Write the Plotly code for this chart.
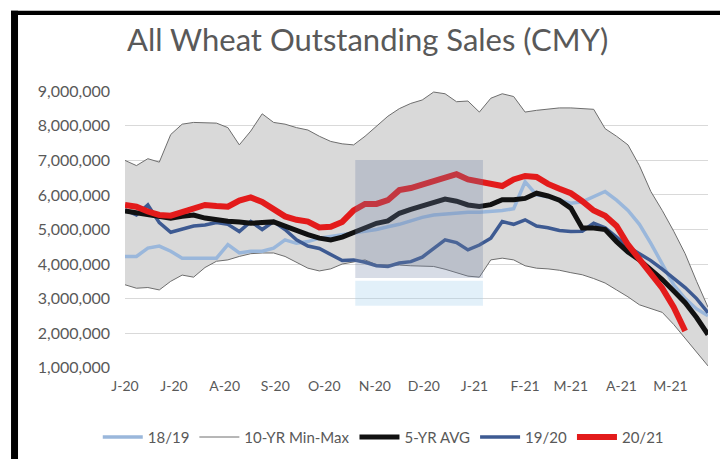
import pandas as pd
import plotly.graph_objects as go

# weekly points, June 2020 - May 2021
weeks = pd.date_range("2020-06-04", periods=52, freq="7D")

tick_dates = [pd.Timestamp("2020-06-04") + pd.DateOffset(months=k) for k in range(12)]
tick_labels = ["J-20", "J-20", "A-20", "S-20", "O-20", "N-20", "D-20", "J-21", "F-21", "M-21", "A-21", "M-21"]

# 10-year range (millions)
max_10yr = [7.00, 6.85, 7.05, 6.95, 7.75, 8.05, 8.10, 8.10, 8.08, 7.95, 7.45, 7.85, 8.35,
            8.10, 8.05, 7.95, 7.88, 7.70, 7.55, 7.48, 7.45, 7.70, 8.00, 8.28, 8.50, 8.65,
            8.75, 8.98, 8.93, 8.70, 8.72, 8.40, 8.80, 8.93, 8.85, 8.40, 8.45, 8.48, 8.52,
            8.52, 8.50, 8.48, 7.92, 7.70, 7.45, 6.85, 6.10, 5.55, 4.95, 4.30, 3.50, 2.75]
min_10yr = [3.40, 3.30, 3.32, 3.25, 3.50, 3.68, 3.62, 3.90, 4.08, 4.12, 4.22, 4.30, 4.32,
            4.32, 4.22, 4.05, 3.88, 3.80, 3.86, 4.00, 4.06, 4.12, 3.98, 3.98, 3.97, 3.95,
            3.94, 3.93, 3.85, 3.75, 3.65, 3.62, 4.12, 4.17, 4.12, 3.95, 3.88, 3.86, 3.82,
            3.75, 3.69, 3.58, 3.45, 3.25, 3.05, 2.82, 2.70, 2.60, 2.25, 1.85, 1.45, 1.05]
avg_5yr = [5.54, 5.48, 5.42, 5.36, 5.33, 5.38, 5.42, 5.33, 5.27, 5.24, 5.22, 5.18, 5.20,
           5.22, 5.10, 4.96, 4.85, 4.75, 4.70, 4.78, 4.92, 5.05, 5.18, 5.25, 5.47, 5.58,
           5.68, 5.78, 5.88, 5.82, 5.71, 5.67, 5.72, 5.86, 5.86, 5.90, 6.05, 5.97, 5.85,
           5.62, 5.04, 5.04, 5.00, 4.65, 4.35, 4.12, 3.85, 3.55, 3.22, 2.88, 2.45, 1.96]
my_1819 = [4.22, 4.22, 4.46, 4.52, 4.37, 4.17, 4.17, 4.17, 4.17, 4.56, 4.32, 4.37, 4.37,
           4.46, 4.70, 4.60, 4.65, 4.75, 4.80, 4.85, 4.90, 4.95, 5.00, 5.08, 5.15, 5.25,
           5.35, 5.42, 5.45, 5.48, 5.50, 5.50, 5.52, 5.55, 5.60, 6.38, 6.00, 5.95, 5.85,
           5.76, 5.80, 5.95, 6.10, 5.85, 5.55, 5.15, 4.60, 4.00, 3.40, 3.00, 2.70, 2.50]
my_1920 = [5.57, 5.42, 5.71, 5.20, 4.92, 5.00, 5.10, 5.13, 5.20, 5.15, 4.94, 5.23, 5.00,
           5.23, 5.00, 4.70, 4.52, 4.45, 4.27, 4.10, 4.12, 4.05, 3.95, 3.93, 4.03, 4.07,
           4.20, 4.45, 4.70, 4.62, 4.41, 4.55, 4.75, 5.23, 5.15, 5.28, 5.10, 5.05, 4.97,
           4.94, 4.95, 5.18, 5.05, 4.78, 4.50, 4.30, 4.10, 3.85, 3.60, 3.32, 3.00, 2.59]
my_2021 = [5.71, 5.66, 5.52, 5.42, 5.40, 5.50, 5.62, 5.71, 5.68, 5.66, 5.84, 5.93, 5.80,
           5.60, 5.38, 5.28, 5.23, 5.06, 5.08, 5.22, 5.55, 5.74, 5.74, 5.85, 6.14, 6.20,
           6.30, 6.44, 6.52, 6.60, 6.45, 6.40, 6.32, 6.26, 6.45, 6.55, 6.52, 6.32, 6.18,
           6.05, 5.82, 5.55, 5.40, 5.10, 4.56, 4.15, 3.72, 3.30, 2.75, 2.06]

M = 1_000_000
GRAY_TXT = "#595959"
BAND_LINE = "#6e6e6e"

fig = go.Figure()

# 10-YR Min-Max band (legend shows only a thin line)
fig.add_trace(go.Scatter(x=weeks, y=[v * M for v in min_10yr], mode="lines",
                         line=dict(color=BAND_LINE, width=1), showlegend=False,
                         hoverinfo="skip"))
fig.add_trace(go.Scatter(x=weeks, y=[v * M for v in max_10yr], mode="lines",
                         fill="tonexty", fillcolor="#d9d9d9", showlegend=False,
                         line=dict(color=BAND_LINE, width=1), name="10-YR Max"))
fig.add_trace(go.Scatter(x=[None], y=[None], mode="lines", name="10-YR Min-Max",
                         line=dict(color=BAND_LINE, width=1), legendrank=2))

fig.add_trace(go.Scatter(x=weeks, y=[v * M for v in my_1819], mode="lines", name="18/19",
                         line=dict(color="#9ab7db", width=3.5), legendrank=1))
fig.add_trace(go.Scatter(x=weeks, y=[v * M for v in my_1920], mode="lines", name="19/20",
                         line=dict(color="#3d5a92", width=3.5), legendrank=4))
fig.add_trace(go.Scatter(x=weeks, y=[v * M for v in avg_5yr], mode="lines", name="5-YR AVG",
                         line=dict(color="#111111", width=5), legendrank=3))
fig.add_trace(go.Scatter(x=weeks[:len(my_2021)], y=[v * M for v in my_2021], mode="lines",
                         name="20/21", line=dict(color="#e31b1b", width=6), legendrank=5))

fig.update_layout(
    width=728, height=459,
    margin=dict(l=117, r=28, t=83, b=99),
    paper_bgcolor="white", plot_bgcolor="white",
    title=dict(text="All Wheat Outstanding Sales (CMY)", x=0.494, xanchor="center",
               y=0.93, yanchor="middle",
               font=dict(family="Lato", size=31, color=GRAY_TXT)),
    xaxis=dict(
        type="date",
        range=[weeks[0], weeks[-1]],
        tickvals=tick_dates, ticktext=tick_labels,
        showgrid=False, showline=False, zeroline=False,
        ticks="", ticklabelstandoff=8,
        tickfont=dict(family="Lato", size=14, color=GRAY_TXT),
    ),
    yaxis=dict(
        range=[0.99 * M, 9.01 * M],
        tickvals=[i * M for i in range(1, 10)],
        tickformat=",d",
        showgrid=True, gridcolor="#d9d9d9", gridwidth=1,
        zeroline=False, showline=False, ticks="", ticklabelstandoff=14,
        tickfont=dict(family="Lato", size=16, color=GRAY_TXT),
    ),
    legend=dict(orientation="h", x=0.443, xanchor="center", y=-0.25, yanchor="middle",
                font=dict(family="Lato", size=15, color=GRAY_TXT),
                bgcolor="rgba(0,0,0,0)", itemwidth=40, traceorder="normal"),
    showlegend=True,
)

# faint watermark block in the middle of the chart
fig.add_shape(type="rect", xref="paper", yref="paper", x0=0.395, x1=0.614, y0=0.325, y1=0.751,
              fillcolor="rgba(110,130,165,0.28)", line_width=0, layer="above")
fig.add_shape(type="rect", xref="paper", yref="paper", x0=0.395, x1=0.614, y0=0.225, y1=0.315,
              fillcolor="rgba(160,205,235,0.3)", line_width=0, layer="above")

# black frame on the left and top of the picture
fig.add_shape(type="rect", xref="paper", yref="paper", x0=-0.1955, x1=-0.1835, y0=-0.36, y1=1.29,
              fillcolor="black", line_width=0)
fig.add_shape(type="rect", xref="paper", yref="paper", x0=-0.1955, x1=1.06, y0=1.274, y1=1.29,
              fillcolor="black", line_width=0)

fig.write_html("out.html")
